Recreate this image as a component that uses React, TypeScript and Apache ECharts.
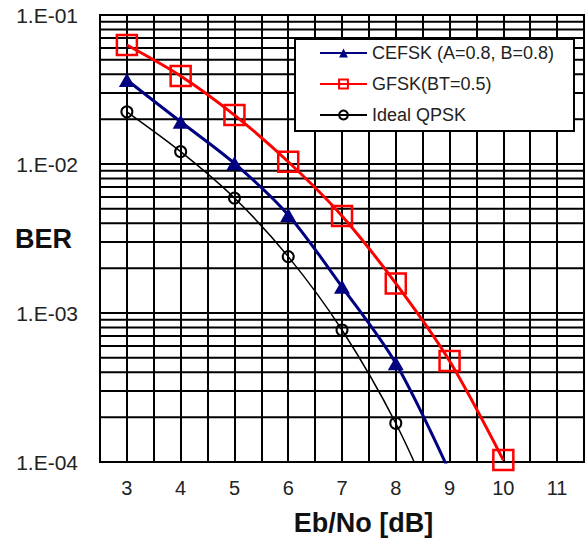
import React, { useEffect, useRef } from "react";
import * as echarts from "echarts";

const ebNo = [3, 4, 5, 6, 7, 8, 9, 10];
const cefskBer = [0.0366, 0.0192, 0.0101, 0.00455, 0.0015, 0.00046, 0.000086];
const gfskBer = [0.0629, 0.039, 0.0213, 0.01035, 0.00448, 0.00158, 0.000476, 0.000103];
const qpskBer = [0.0224, 0.0121, 0.00591, 0.00239, 0.000769, 0.000182, 0.000029];
const seriesNames = ["CEFSK (A=0.8, B=0.8)", "GFSK(BT=0.5)", "Ideal QPSK"];
const decades = [1e-4, 1e-3, 1e-2];
const minorMultipliers = [2, 3, 4, 5, 6, 7, 8, 9];
const xLabelValues = [3, 4, 5, 6, 7, 8, 9, 10, 11];
const xMin = 2.5;
const xMax = 11.5;

const FONT = '"Liberation Sans", Arial, sans-serif';

export default function App() {
  const ref = useRef<HTMLDivElement>(null);

  useEffect(() => {
    if (!ref.current) return;
    document.body.style.margin = "0";
    const chart = echarts.init(ref.current, null, { renderer: "svg" });
    const pair = (vals: number[]) => vals.map((v, i) => [ebNo[i], v]);
    const minorData: any[] = [];
    decades.forEach((d) =>
      minorMultipliers.forEach((m) => {
        minorData.push([xMin, m * d], [xMax, m * d], "-");
      })
    );

    chart.setOption({
      animation: false,
      grid: {
        left: 100,
        top: 15,
        right: 4,
        bottom: 78,
        show: true,
        borderColor: "#000",
        borderWidth: 2,
        backgroundColor: "#fff",
        outerBoundsMode: "none",
        containLabel: false,
      },
      xAxis: {
        type: "value",
        min: xMin,
        max: xMax,
        interval: 0.5,
        name: "Eb/No [dB]",
        nameLocation: "middle",
        nameGap: 47,
        nameMoveOverlap: false,
        nameTextStyle: {
          fontFamily: FONT,
          fontWeight: "bold",
          fontSize: 27,
          color: "#111",
          padding: [0, 0, 0, 43],
        },
        axisLine: { show: true, lineStyle: { color: "#000", width: 2 } },
        axisTick: { show: false },
        axisLabel: {
          fontFamily: FONT,
          fontSize: 20,
          color: "#222",
          margin: 16,
          formatter: (v: number) => (xLabelValues.includes(v) ? String(v) : ""),
        },
        splitLine: { show: true, lineStyle: { color: "#000", width: 2 } },
      },
      yAxis: {
        type: "log",
        logBase: 10,
        min: 1e-4,
        max: 1e-1,
        name: "BER",
        nameLocation: "middle",
        nameRotate: 0,
        nameGap: 28,
        nameMoveOverlap: false,
        nameTextStyle: {
          fontFamily: FONT,
          fontWeight: "bold",
          fontSize: 27,
          color: "#111",
        },
        axisLine: { show: true, lineStyle: { color: "#000", width: 2 } },
        axisTick: { show: false },
        axisLabel: {
          fontFamily: FONT,
          fontSize: 21,
          color: "#222",
          margin: 22,
          formatter: (v: number) => {
            const e = Math.round(Math.log10(v));
            const a = Math.abs(e);
            return "1.E" + (e < 0 ? "-" : "+") + (a < 10 ? "0" + a : String(a));
          },
        },
        splitLine: { show: true, lineStyle: { color: "#000", width: 2 } },
      },
      legend: {
        orient: "vertical",
        left: 319,
        top: 43,
        padding: 0,
        itemGap: 11,
        itemWidth: 47,
        itemHeight: 11,
        z: 5,
        data: seriesNames,
        textStyle: { fontFamily: FONT, fontSize: 18, color: "#222", lineHeight: 20 },
      },
      graphic: [
        {
          type: "rect",
          z: 4,
          shape: { x: 295, y: 39, width: 279, height: 92 },
          style: { fill: "#fff", stroke: "#000", lineWidth: 2 },
        },
      ],
      series: [
        {
          name: "minor-grid",
          type: "line",
          data: minorData,
          z: 1,
          silent: true,
          symbol: "none",
          connectNulls: false,
          lineStyle: { color: "#000", width: 2 },
          emphasis: { disabled: true },
        },
        {
          name: seriesNames[0],
          type: "line",
          data: pair(cefskBer),
          smooth: 0.3,
          clip: true,
          z: 3,
          symbol: "triangle",
          symbolSize: [16, 14],
          lineStyle: { color: "#000080", width: 3 },
          itemStyle: { color: "#000080" },
        },
        {
          name: seriesNames[1],
          type: "line",
          data: pair(gfskBer),
          smooth: 0.3,
          clip: true,
          z: 3,
          symbol: "rect",
          symbolSize: 20,
          lineStyle: { color: "#ff0000", width: 3 },
          itemStyle: { color: "transparent", borderColor: "#ff0000", borderWidth: 2.5 },
        },
        {
          name: seriesNames[2],
          type: "line",
          data: pair(qpskBer),
          smooth: 0.3,
          clip: true,
          z: 3,
          symbol: "circle",
          symbolSize: 11,
          lineStyle: { color: "#000", width: 1.5 },
          itemStyle: { color: "transparent", borderColor: "#000", borderWidth: 2 },
        },
      ],
    });
    return () => chart.dispose();
  }, []);

  return <div ref={ref} style={{ width: 588, height: 540 }} />;
}
